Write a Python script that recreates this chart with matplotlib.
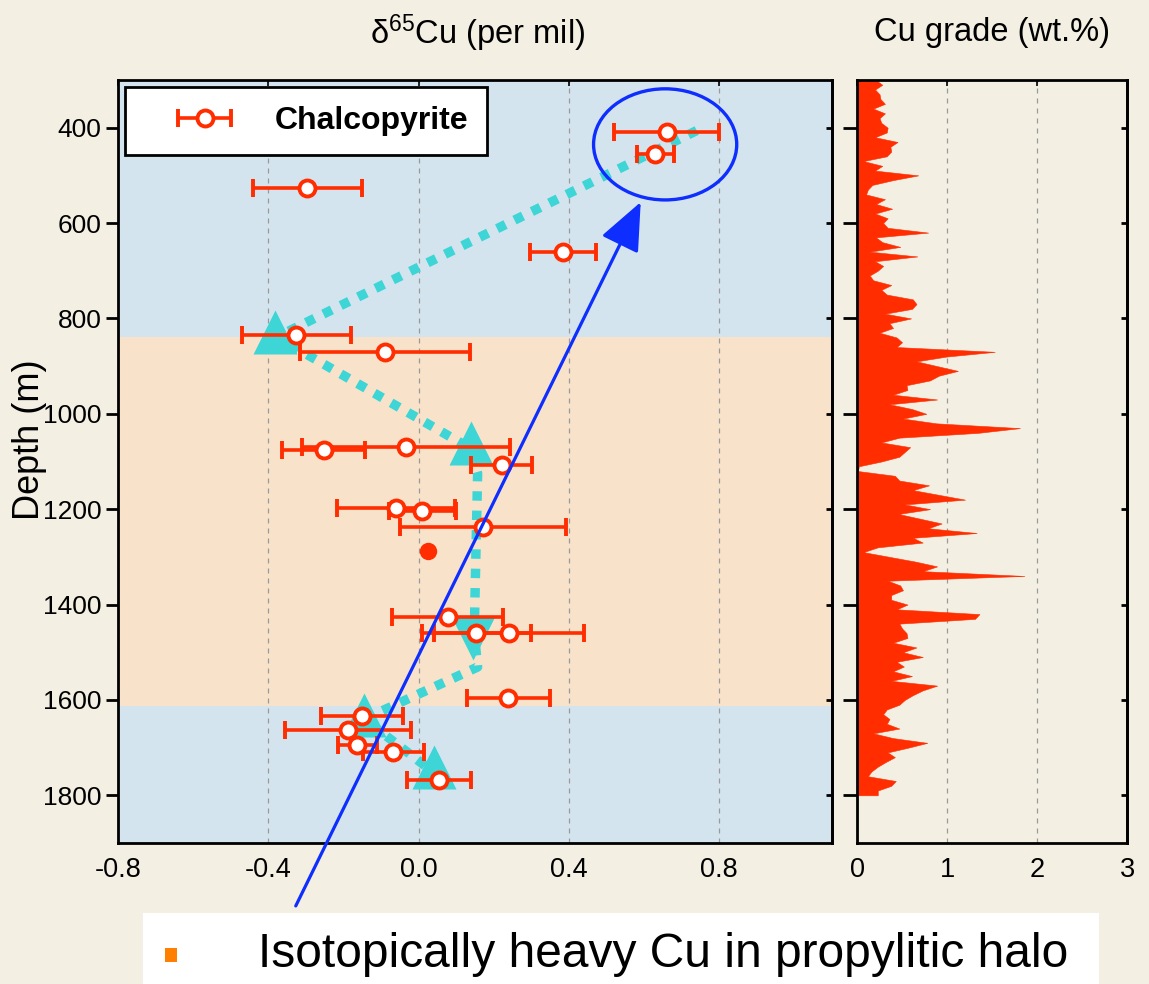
import numpy as np
import matplotlib
matplotlib.use('Agg')
import matplotlib.pyplot as plt
from matplotlib.patches import Ellipse, Rectangle
from matplotlib.container import ErrorbarContainer
from matplotlib.legend_handler import HandlerErrorbar

plt.rcParams['font.family'] = ['Liberation Sans', 'DejaVu Sans']
plt.rcParams['mathtext.default'] = 'regular'

# chalcopyrite d65Cu (per mil), depth (m), 2 sigma
cpy_x = [0.66, 0.63, -0.296, 0.385, -0.326, -0.09, -0.253, -0.034, 0.221, -0.06, 0.01,
         0.171, 0.077, 0.154, 0.241, 0.239, -0.15, -0.188, -0.163, -0.067, 0.054]
cpy_depth = [410, 456, 527, 661, 835, 871, 1075, 1069, 1108, 1198, 1203,
             1238, 1427, 1460, 1460, 1596, 1633, 1664, 1695, 1709, 1768]
cpy_err = [0.14, 0.049, 0.146, 0.088, 0.145, 0.227, 0.111, 0.277, 0.081, 0.156, 0.089,
           0.22, 0.147, 0.144, 0.20, 0.111, 0.109, 0.167, 0.051, 0.082, 0.086]

dot_x = [0.025]
dot_depth = [1288]

# trend line (dotted) and triangles
trend_x = [0.74, -0.378, 0.139, 0.157, 0.148, 0.157, -0.145, 0.04]
trend_depth = [406, 839, 1073, 1125, 1459, 1531, 1640, 1752]
tri_up_x = [-0.383, 0.139, -0.146, 0.041]
tri_up_depth = [829, 1061, 1632, 1740]
tri_dn_x = [0.145]
tri_dn_depth = [1470]

# alteration zones
zone_top = [300, 838, 1612]
zone_bottom = [838, 1612, 1900]
zone_color = ['#D4E4EE', '#F8E3CA', '#D4E4EE']

# Cu grade log, every 10 m from 300 m
cu_depth = np.arange(300, 1801, 10)
cu_grade = [0.21, 0.28, 0.20, 0.25, 0.26, 0.31, 0.18, 0.31, 0.25, 0.27,
            0.34, 0.33, 0.20, 0.45, 0.37, 0.38, 0.33, 0.07, 0.28, 0.20,
            0.68, 0.40, 0.17, 0.12, 0.10, 0.31, 0.21, 0.39, 0.20, 0.34,
            0.29, 0.34, 0.79, 0.21, 0.28, 0.48, 0.14, 0.67, 0.20, 0.29,
            0.23, 0.14, 0.18, 0.38, 0.27, 0.33, 0.62, 0.66, 0.61, 0.31,
            0.60, 0.36, 0.40, 0.25, 0.44, 0.50, 0.44, 1.53, 0.99, 0.66,
            0.89, 1.12, 0.91, 0.81, 0.55, 0.56, 0.40, 0.89, 0.36, 0.61,
            0.77, 0.51, 0.88, 1.81, 1.34, 0.47, 0.27, 0.59, 0.53, 0.47,
            0.27, 0.02, 0.01, 0.42, 0.47, 0.80, 0.62, 0.91, 1.20, 0.53,
            0.81, 0.46, 0.70, 0.94, 0.79, 1.33, 0.62, 0.73, 0.23, 0.07,
            0.36, 0.65, 0.89, 0.73, 1.86, 0.34, 0.48, 0.51, 0.38, 0.38,
            0.56, 0.44, 1.36, 1.31, 0.47, 0.50, 0.55, 0.56, 0.40, 0.66,
            0.51, 0.73, 0.44, 0.52, 0.40, 0.61, 0.38, 0.89, 0.73, 0.62,
            0.53, 0.47, 0.33, 0.29, 0.36, 0.33, 0.47, 0.18, 0.40, 0.78,
            0.57, 0.34, 0.42, 0.32, 0.23, 0.16, 0.12, 0.43, 0.38, 0.23,
            0.23]

depth_ticks = [400, 600, 800, 1000, 1200, 1400, 1600, 1800]
d65_ticks = [-0.8, -0.4, 0.0, 0.4, 0.8]
d65_labels = ['-0.8', '-0.4', '0.0', '0.4', '0.8']
grade_ticks = [0, 1, 2, 3]

BG = '#F3EFE3'
RED = '#FF2D00'
CYAN = '#3DD5D5'
BLUE = '#0D2EFF'

fig = plt.figure(figsize=(11.49, 9.84), dpi=100, facecolor=BG)
ax = fig.add_axes([0.1027, 0.1433, 0.6214, 0.7754])
ax2 = fig.add_axes([0.7459, 0.1433, 0.235, 0.7754])

# ---- left panel: d65Cu ----
for top, bot, c in zip(zone_top, zone_bottom, zone_color):
    ax.axhspan(top, bot, color=c, lw=0, zorder=0)

ax.set_xlim(-0.8, 1.1)
ax.set_ylim(1900, 300)
ax.set_xticks(d65_ticks)
ax.set_xticklabels(d65_labels)
ax.set_yticks(depth_ticks)
ax.set_axisbelow(True)
ax.grid(axis='x', color='#9a9a9a', ls=(0, (4, 4)), lw=0.9)

ax.plot(trend_x, trend_depth, color=CYAN, lw=6.8, dashes=(1, 1.05), zorder=2)
ax.plot(tri_up_x, tri_up_depth, '^', ms=31, color=CYAN, mec='none', zorder=2.5)
ax.plot(tri_dn_x, tri_dn_depth, 'v', ms=31, color=CYAN, mec='none', zorder=2.5)

eb = ax.errorbar(cpy_x, cpy_depth, xerr=cpy_err, fmt='o', ms=11.5, mfc='white', mec=RED,
                 mew=2.8, ecolor=RED, elinewidth=2.6, capsize=6.5, capthick=2.6, zorder=4)
ax.plot(dot_x, dot_depth, 'o', ms=11.5, color=RED, zorder=4)

ax.add_patch(Ellipse((0.656, 435), 0.381, 233, fill=False, ec=BLUE, lw=2.4, zorder=5))
ax.annotate('', xy=(0.591, 556), xytext=(-0.327, 2032), annotation_clip=False,
            arrowprops=dict(arrowstyle='-|>,head_length=0.4,head_width=0.17', mutation_scale=75,
                            color=BLUE, lw=2.3, shrinkA=0, shrinkB=0), zorder=6)

leg = ax.legend(handles=[eb], labels=['Chalcopyrite'], loc='upper left',
                bbox_to_anchor=(0.0098, 0.9908), borderaxespad=0, borderpad=0.6,
                handlelength=3.78, handletextpad=0.3, prop=dict(weight='bold', size=23),
                fancybox=False, edgecolor='black', framealpha=1, facecolor='white',
                handler_map={ErrorbarContainer: HandlerErrorbar(xerr_size=0.83)})
leg.get_frame().set_linewidth(2)
leg.set_zorder(7)

ax.tick_params(axis='y', direction='out', length=9, width=2, pad=3, labelsize=19)
ax.tick_params(axis='x', direction='in', length=4, width=1.2, top=True, bottom=False,
               pad=10, labelsize=19.5)
for s in ax.spines.values():
    s.set_linewidth(2)
sec = ax.secondary_yaxis('right')
sec.set_yticks(depth_ticks)
sec.tick_params(direction='in', length=4, width=2, labelright=False)
sec.spines['right'].set_linewidth(2)

# ---- right panel: Cu grade ----
ax2.set_facecolor(BG)
ax2.fill_betweenx(cu_depth, 0, cu_grade, color=RED, lw=0.4)
ax2.set_xlim(0, 3)
ax2.set_ylim(1900, 300)
ax2.set_xticks(grade_ticks)
ax2.set_xticklabels(['0', '1', '2', '3'])
ax2.set_yticks(depth_ticks)
ax2.set_yticklabels([])
ax2.set_axisbelow(True)
ax2.grid(axis='x', color='#9a9a9a', ls=(0, (4, 4)), lw=0.9)
ax2.tick_params(axis='y', direction='out', length=10, width=2)
ax2.tick_params(axis='x', direction='in', length=4, width=1.2, top=True, bottom=False,
                pad=10, labelsize=19.5)
for s in ax2.spines.values():
    s.set_linewidth(2)
sec2 = ax2.secondary_yaxis('right')
sec2.set_yticks(depth_ticks)
sec2.tick_params(direction='in', length=4, width=2, labelright=False)
sec2.spines['right'].set_linewidth(2)

# ---- texts ----
fig.text(0.416, 0.9665, 'δ$^{65}$Cu (per mil)', ha='center', va='center', fontsize=23.5)
fig.text(0.8634, 0.9665, 'Cu grade (wt.%)', ha='center', va='center', fontsize=23.5)
fig.text(0.026, 0.553, 'Depth (m)', rotation=90, ha='center', va='center', fontsize=26)

fig.add_artist(Rectangle((0.1245, 0), 0.832, 0.0722, transform=fig.transFigure,
                         fc='white', ec='none', zorder=10))
fig.add_artist(Rectangle((0.1436, 0.0222), 0.0106, 0.0145, transform=fig.transFigure,
                         fc='#FF8000', ec='none', zorder=11))
fig.text(0.2245, 0.0295, 'Isotopically heavy Cu in propylitic halo', fontsize=34.5,
         va='center', zorder=11)

fig.savefig('out.png', dpi=100, facecolor=BG)
